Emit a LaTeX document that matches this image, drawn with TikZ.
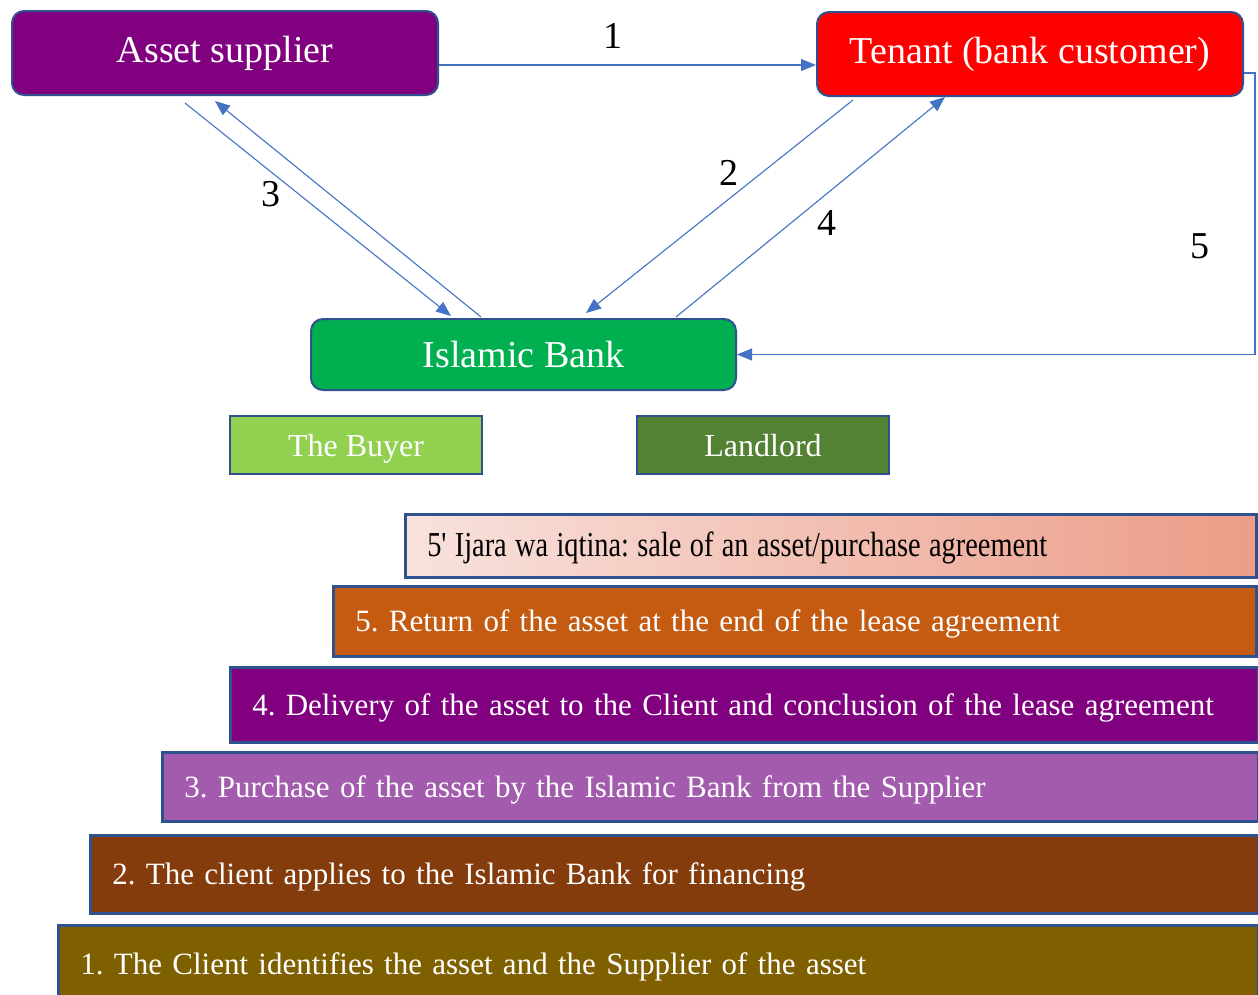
\documentclass[tikz,border=0pt]{standalone}
\usepackage{fontspec}
\usepackage{graphicx}
\setmainfont{Liberation Serif}
\usetikzlibrary{arrows.meta,calc}

\definecolor{edge}{HTML}{2F528F}
\definecolor{flowblue}{HTML}{4472C4}
\definecolor{supplierfill}{HTML}{800080}
\definecolor{tenantfill}{HTML}{FF0000}
\definecolor{bankfill}{HTML}{00B050}
\definecolor{buyerfill}{HTML}{92D050}
\definecolor{landlordfill}{HTML}{548235}
\definecolor{pinkleft}{HTML}{F8E2DD}
\definecolor{pinkright}{HTML}{EC9C87}
\definecolor{stepfive}{HTML}{C55A11}
\definecolor{stepfour}{HTML}{800080}
\definecolor{stepthree}{HTML}{A25BAD}
\definecolor{steptwo}{HTML}{843C0C}
\definecolor{stepone}{HTML}{7F6000}

\frenchspacing

\begin{document}
\begin{tikzpicture}[x=1pt,y=-1pt,
  party/.style={draw=edge, line width=2pt, rounded corners=12pt, text=white,
    font=\fontsize{38}{40}\selectfont, inner sep=0pt},
  role/.style={draw=edge, line width=2.5pt, text=white,
    font=\fontsize{32}{34}\selectfont, minimum width=252pt, minimum height=58pt,
    text height=22pt, text depth=0pt, inner sep=0pt},
  banner/.style={draw=edge, line width=2.5pt, text=white, anchor=north west,
    font=\fontsize{31}{33}\selectfont, align=left, inner xsep=22pt, inner ysep=0pt,
    text height=21pt, text depth=0pt},
  flow/.style={draw=flowblue, line width=1.1pt, -{Triangle[length=15pt,width=12pt]}},
  num/.style={font=\fontsize{38}{40}\selectfont, inner sep=0pt}]

\useasboundingbox (0,0) rectangle (1258,994);
\clip (0,0) rectangle (1258,994);

% parties of the contract
\node[party, fill=supplierfill, minimum width=426pt, minimum height=84pt] (sup) at (225,53) {Asset supplier};
\node[party, fill=tenantfill, minimum width=426pt, minimum height=84pt] (ten) at (1030,54) {Tenant (bank customer)};
\node[party, fill=bankfill, minimum width=425pt, minimum height=71pt] (bank) at (523.5,354.5) {Islamic Bank};

% roles of the bank
\node[role, fill=buyerfill] (buyer) at (356,445) {The Buyer};
\node[role, fill=landlordfill] (landlord) at (763,445) {Landlord};

% numbered flows
\draw[flow] ([yshift=-12pt]sup.east) -- ([yshift=-11pt]ten.west);
\draw[flow] ([shift={(37,3)}]ten.south west) -- ([shift={(276,-5)}]bank.north west);
\draw[flow] ([shift={(174,7)}]sup.south west) -- ([shift={(141,-2)}]bank.north west);
\draw[flow] ([shift={(171,-1)}]bank.north west) -- ([shift={(204,5)}]sup.south west);
\draw[flow] ([shift={(366,-1)}]bank.north west) -- ([shift={(129,0)}]ten.south west);
\draw[flow] ([yshift=-19pt]ten.east) -- ++(11,0) |- (bank.east);

\node[num] (n1) at (613,36) {1};
\node[num] (n2) at (729,173) {2};
\node[num] (n3) at (271,194.5) {3};
\node[num] (n4) at (826.5,222.5) {4};
\node[num] (n5) at (1199.5,246.5) {5};

% steps of the operation
\node[banner, left color=pinkleft, right color=pinkright, text=black,
  minimum height=63pt, text width=807pt] (s5b) at (404,513)
  {\scalebox{0.81}[1]{\fontsize{35}{37}\selectfont 5\textquotesingle{} Ijara wa iqtina: sale of an asset/purchase agreement}};
\node[banner, fill=stepfive, minimum height=70pt, text width=879pt] (s5) at (332,585)
  {5. Return of the asset at the end of the lease agreement};
\node[banner, fill=stepfour, minimum height=75pt, text width=984pt] (s4) at (229,666)
  {4. Delivery of the asset to the Client and conclusion of the lease agreement};
\node[banner, fill=stepthree, minimum height=69pt, text width=1052pt] (s3) at (161,751)
  {3. Purchase of the asset by the Islamic Bank from the Supplier};
\node[banner, fill=steptwo, minimum height=78pt, text width=1124pt] (s2) at (89,834)
  {2. The client applies to the Islamic Bank for financing};
\node[banner, fill=stepone, minimum height=78pt, text width=1156pt] (s1) at (57,924)
  {1. The Client identifies the asset and the Supplier of the asset};
\end{tikzpicture}
\end{document}
